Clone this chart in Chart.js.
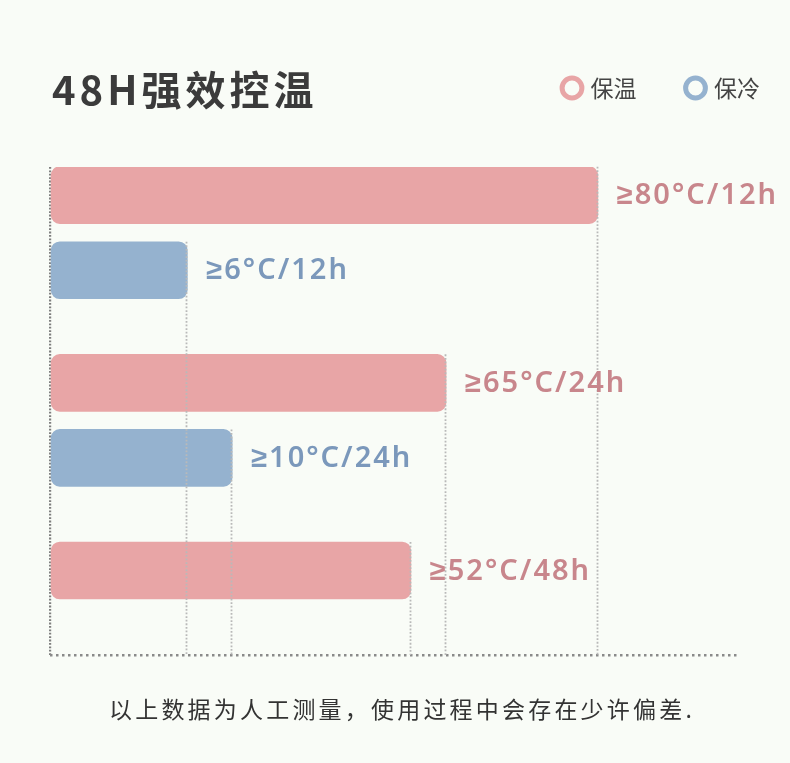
<!DOCTYPE html>
<html>
<head>
<meta charset="utf-8">
<script src="https://cdn.jsdelivr.net/npm/chart.js@4.4.1/dist/chart.umd.min.js"></script>
<style>
  html, body { margin: 0; padding: 0; background: #f9fcf7; }
  #wrap { position: relative; width: 790px; height: 763px; overflow: hidden; }
  #chart { position: absolute; left: 0; top: 0; }
  #title { position: absolute; left: 52px; top: 68px; font: 700 40px/40px "Noto Sans CJK SC", sans-serif; letter-spacing: 4px; color: #3b3b3b; white-space: nowrap; }
  #note { position: absolute; left: 109px; top: 697px; font: 400 23px/23px "Noto Sans CJK SC", sans-serif; letter-spacing: 3.2px; color: #333333; white-space: nowrap; }
</style>
</head>
<body>
<div id="wrap">
  <canvas id="chart" width="790" height="763"></canvas>
  <div id="title">48H强效控温</div>
  <div id="note">以上数据为人工测量，使用过程中会存在少许偏差.</div>
</div>
<script>
// ---- data ----
const seriesNames = ['保温', '保冷'];
const seriesColors = ['#e8a5a6', '#95b2cf'];
const labelColors = ['#c8868c', '#7b98bb'];
const rowLabels = ['≥80°C/12h', '≥6°C/12h', '≥65°C/24h', '≥10°C/24h', '≥52°C/48h'];
const rowSeries = ['保温', '保冷', '保温', '保冷', '保温'];
const barLengths = [79.4, 19.9, 57.4, 26.4, 52.3];

// ---- layout (row slots on the category axis) ----
const rowSlots = [1, 5, 11, 15, 21];
const slotCount = 26;

const slotLabels = Array.from({ length: slotCount }, (_, i) => {
  const r = rowSlots.indexOf(i);
  return r >= 0 ? rowLabels[r] : '';
});

const datasets = seriesNames.map((name, s) => ({
  label: name,
  data: slotLabels.map((_, i) => {
    const r = rowSlots.indexOf(i);
    return (r >= 0 && rowSeries[r] === name) ? barLengths[r] : null;
  }),
  backgroundColor: seriesColors[s],
  borderRadius: 9,
  borderSkipped: false,
  barThickness: 57,
  grouped: false
}));

const dropLines = {
  id: 'dropLines',
  afterDatasetsDraw(chart) {
    const ctx = chart.ctx;
    const bottom = chart.chartArea.bottom;
    ctx.save();
    ctx.strokeStyle = '#b9b9b9';
    ctx.lineWidth = 1.8;
    ctx.setLineDash([1.8, 1.8]);
    chart.data.datasets.forEach((ds, di) => {
      const meta = chart.getDatasetMeta(di);
      meta.data.forEach((el, i) => {
        if (ds.data[i] === null) return;
        const top = el.y - el.height / 2;
        ctx.beginPath();
        ctx.moveTo(Math.round(el.x) - 0.5, top);
        ctx.lineTo(Math.round(el.x) - 0.5, bottom);
        ctx.stroke();
      });
    });
    ctx.restore();
  }
};

const valueLabels = {
  id: 'valueLabels',
  afterDatasetsDraw(chart) {
    const ctx = chart.ctx;
    ctx.save();
    ctx.font = '600 29px "Noto Sans", sans-serif';
    if ('letterSpacing' in ctx) ctx.letterSpacing = '2px';
    ctx.textBaseline = 'middle';
    ctx.textAlign = 'left';
    chart.data.datasets.forEach((ds, di) => {
      const meta = chart.getDatasetMeta(di);
      meta.data.forEach((el, i) => {
        if (ds.data[i] === null) return;
        ctx.fillStyle = labelColors[di];
        ctx.fillText(slotLabels[i], el.x + 19, el.y + 1);
      });
    });
    ctx.restore();
  }
};

new Chart(document.getElementById('chart'), {
  type: 'bar',
  data: { labels: slotLabels, datasets },
  options: {
    indexAxis: 'y',
    responsive: false,
    animation: false,
    layout: { padding: { top: 24.5, left: 50, right: -22, bottom: 108 } },
    plugins: {
      tooltip: { enabled: false },
      title: { display: false },
      legend: {
        position: 'top',
        align: 'end',
        labels: {
          usePointStyle: true,
          boxWidth: 14,
          boxHeight: 14,
          padding: 52,
          color: '#444444',
          font: { family: '"Noto Sans CJK SC", sans-serif', size: 23 },
          generateLabels: (chart) => chart.data.datasets.map((ds, i) => ({
            text: ds.label,
            fillStyle: 'rgba(0,0,0,0)',
            strokeStyle: ds.backgroundColor,
            lineWidth: 5,
            pointStyle: 'circle',
            hidden: false,
            datasetIndex: i,
            fontColor: '#444444'
          }))
        }
      }
    },
    scales: {
      x: {
        type: 'linear', position: 'bottom', min: 0, max: 100, z: 1,
        afterBuildTicks: (s) => { s.ticks = [{ value: 0 }]; },
        ticks: { display: false },
        grid: { color: '#7f7f7f', lineWidth: 2.2, drawTicks: false },
        border: { display: false, dash: [1.8, 1.6] }
      },
      y: {
        type: 'category', offset: true, z: 1,
        ticks: { display: false },
        grid: {
          offset: true, drawTicks: false, lineWidth: 2.5,
          color: (c) => c.type === 'scale' ? '#8a8a8a' : 'rgba(0,0,0,0)'
        },
        border: { display: false, dash: [2.5, 3.5] },
        afterFit: (s) => { s.width = 0; }
      },
      xTop: {
        type: 'linear', position: 'top', display: true,
        ticks: { display: false }, grid: { display: false }, border: { display: false },
        afterFit: (s) => { s.height = 57.5; }
      },
      yRight: {
        type: 'linear', position: 'right', display: true,
        ticks: { display: false }, grid: { display: false }, border: { display: false },
        afterFit: (s) => { s.width = 72; }
      }
    }
  },
  plugins: [dropLines, valueLabels]
});
</script>
</body>
</html>
